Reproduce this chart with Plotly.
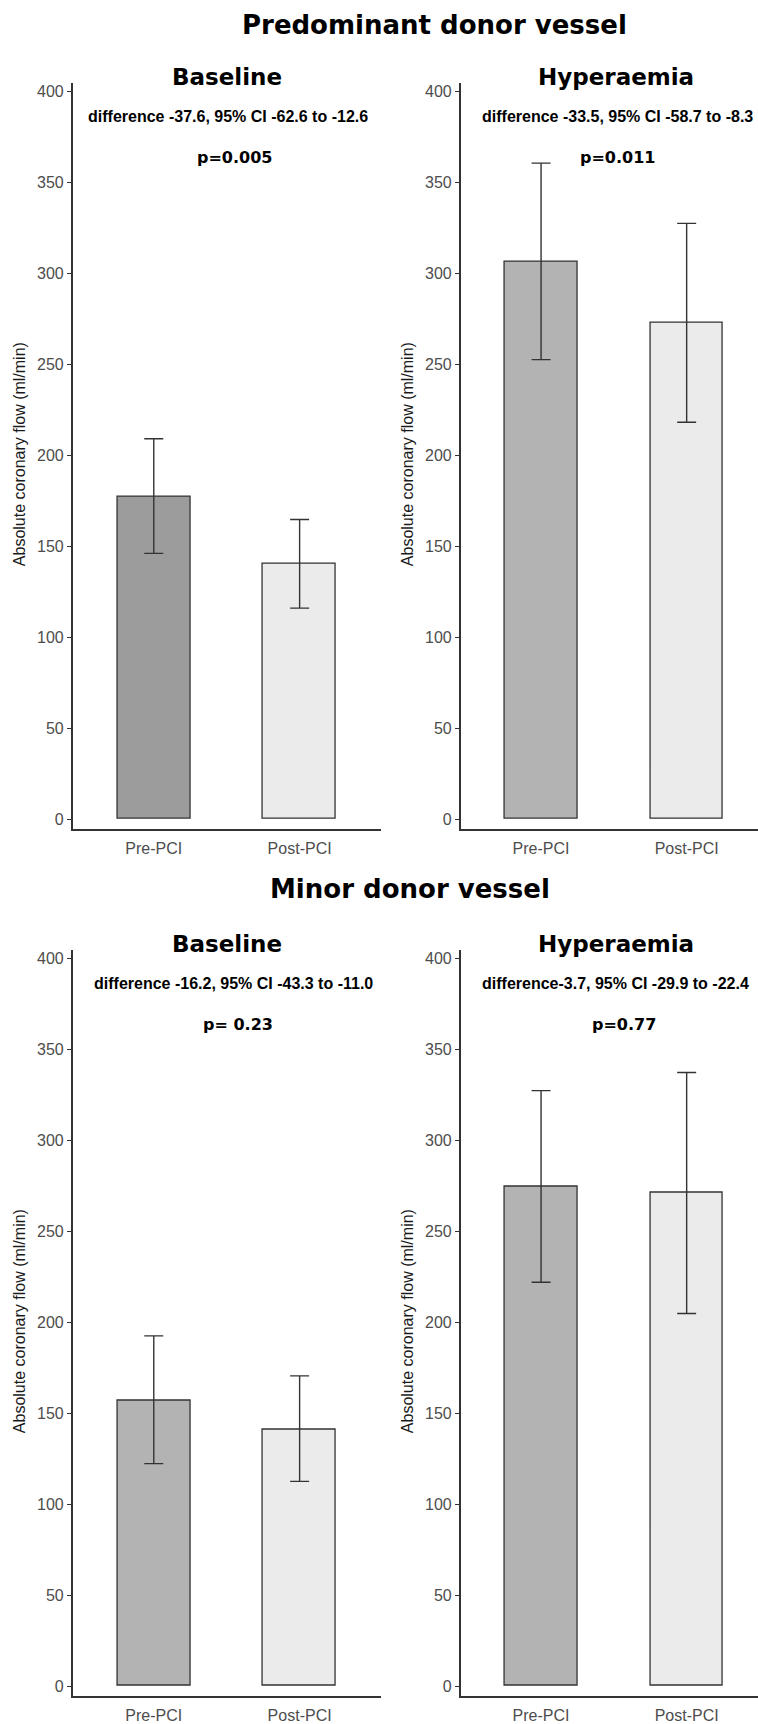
import plotly.graph_objects as go

W, H = 758, 1724

categories = ["Pre-PCI", "Post-PCI"]

# Predominant donor vessel
pred_base_mean = [177.1, 140.3]
pred_base_low = [146.1, 116.0]
pred_base_high = [209.1, 164.7]
pred_hyp_mean = [306.5, 273.1]
pred_hyp_low = [252.6, 218.2]
pred_hyp_high = [360.6, 327.5]

# Minor donor vessel
minor_base_mean = [157.0, 141.0]
minor_base_low = [122.3, 112.5]
minor_base_high = [192.5, 170.5]
minor_hyp_mean = [274.6, 271.2]
minor_hyp_low = [222.0, 204.8]
minor_hyp_high = [327.3, 337.3]

y_ticks = [0, 50, 100, 150, 200, 250, 300, 350, 400]

section_titles = ["Predominant donor vessel", "Minor donor vessel"]
panel_titles = ["Baseline", "Hyperaemia"]
diff_texts = [
    "difference -37.6, 95% CI -62.6 to -12.6",
    "difference -33.5, 95% CI -58.7 to -8.3",
    "difference -16.2, 95% CI -43.3 to -11.0",
    "difference-3.7, 95% CI -29.9 to -22.4",
]
p_texts = ["p=0.005", "p=0.011", "p= 0.23", "p=0.77"]
y_title = "Absolute coronary flow (ml/min)"

pre_colors = ["#9c9c9c", "#b3b3b3", "#b3b3b3", "#b3b3b3"]
post_color = "#ebebeb"

panels = [
    (pred_base_mean, pred_base_low, pred_base_high),
    (pred_hyp_mean, pred_hyp_low, pred_hyp_high),
    (minor_base_mean, minor_base_low, minor_base_high),
    (minor_hyp_mean, minor_hyp_low, minor_hyp_high),
]


def px(x):
    return x / W


def py(y):
    return 1 - y / H


fig = go.Figure()

x_domains = [[px(72.7), px(380.7)], [px(460.7), 1.0]]
x_ranges = [[-0.556, 1.556], [-0.552, 1.49]]
y_range = [-5.6, 404.8]
y_domains = [[py(831.7), py(83)], [py(1701.2), py(952.4)]]

tick_font = dict(family="Liberation Sans, Arial, sans-serif", size=16, color="#4d4d4d")

for i, (mean, low, high) in enumerate(panels):
    xa = "x" if i == 0 else f"x{i+1}"
    ya = "y" if i == 0 else f"y{i+1}"
    fig.add_trace(go.Bar(
        x=categories, y=mean, width=0.5,
        marker=dict(color=[pre_colors[i], post_color], line=dict(color="#333333", width=1.3)),
        error_y=dict(type="data", symmetric=False,
                     array=[h - m for h, m in zip(high, mean)],
                     arrayminus=[m - l for m, l in zip(mean, low)],
                     color="#333333", thickness=1.4, width=9.5),
        xaxis=xa, yaxis=ya, showlegend=False, hoverinfo="skip",
    ))
    col = i % 2
    row = i // 2
    xkey = "xaxis" if i == 0 else f"xaxis{i+1}"
    ykey = "yaxis" if i == 0 else f"yaxis{i+1}"
    fig.layout[xkey] = dict(
        domain=x_domains[col], range=x_ranges[col], type="category",
        anchor=ya, showline=True, linecolor="#333333", linewidth=1.5,
        ticks="", showgrid=False, zeroline=False,
        tickfont=tick_font, ticklabelstandoff=4,
    )
    fig.layout[ykey] = dict(
        domain=y_domains[row], range=y_range, anchor=xa,
        showline=True, linecolor="#333333", linewidth=1.5,
        ticks="outside", ticklen=4, tickwidth=1.2, tickcolor="#333333",
        tickvals=y_ticks, showgrid=False, zeroline=False,
        tickfont=tick_font,
    )

ann = []
title_font = dict(family="DejaVu Sans, Verdana, sans-serif", size=26, color="black")
sub_font = dict(family="DejaVu Sans, Verdana, sans-serif", size=23, color="black")
diff_font = dict(family="Liberation Sans, Arial, sans-serif", size=16, color="black")
p_font = dict(family="DejaVu Sans, Verdana, sans-serif", size=16, color="black")
ytitle_font = dict(family="Liberation Sans, Arial, sans-serif", size=16, color="#1a1a1a")

section_pos = [(434, 25), (409.5, 892)]
for t, (x, y) in zip(section_titles, section_pos):
    ann.append(dict(text=f"<b>{t}</b>", x=px(x), y=py(y), xref="paper", yref="paper",
                    showarrow=False, xanchor="center", yanchor="middle", font=title_font))

offset = [0, 869.5]
sub_x = [226.7, 616]
diff_x = [[228, 617], [233, 615]]
p_x = [[234, 617], [238, 624]]
ytitle_x = [19, 407]
for row in range(2):
    for col in range(2):
        k = row * 2 + col
        ann.append(dict(text=f"<b>{panel_titles[col]}</b>", x=px(sub_x[col]), y=py(77.3 + offset[row]),
                        xref="paper", yref="paper", showarrow=False, xanchor="center",
                        yanchor="middle", font=sub_font))
        ann.append(dict(text=f"<b>{diff_texts[k]}</b>", x=px(diff_x[row][col]), y=py(117 + offset[row]),
                        xref="paper", yref="paper", showarrow=False, xanchor="center",
                        yanchor="middle", font=diff_font))
        ann.append(dict(text=f"<b>{p_texts[k]}</b>", x=px(p_x[row][col]), y=py(157.5 + offset[row]),
                        xref="paper", yref="paper", showarrow=False, xanchor="center",
                        yanchor="middle", font=p_font))
        ann.append(dict(text=y_title, x=px(ytitle_x[col]),
                        y=py(455.5 + offset[row]), xref="paper", yref="paper", showarrow=False,
                        xanchor="center", yanchor="middle", textangle=-90, font=ytitle_font))

fig.update_layout(
    width=W, height=H, margin=dict(l=0, r=0, t=0, b=0),
    paper_bgcolor="white", plot_bgcolor="white",
    annotations=ann, bargap=0,
)

fig.write_html("out.html", config={"displayModeBar": False})
